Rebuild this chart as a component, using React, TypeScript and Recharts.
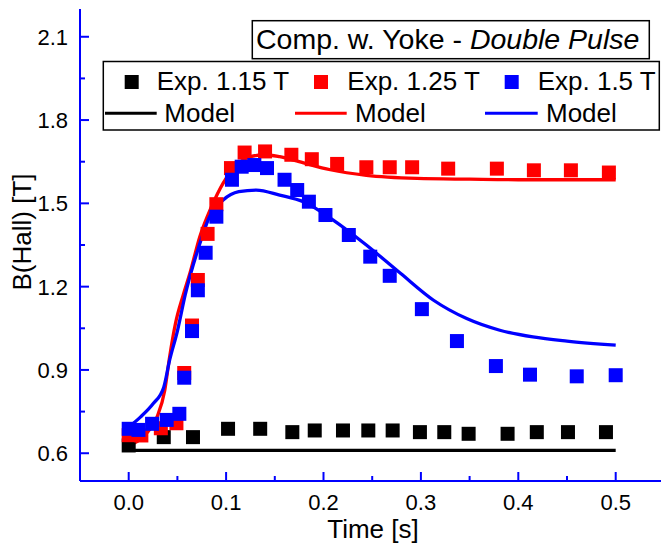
import {
  ComposedChart,
  Scatter,
  Line,
  XAxis,
  YAxis,
} from 'recharts';

const expT115 = [0.0, 0.036, 0.066, 0.102, 0.135, 0.168, 0.191, 0.22, 0.246, 0.271, 0.299, 0.324, 0.349, 0.389, 0.419, 0.451, 0.49];
const expB115 = [0.628, 0.658, 0.658, 0.688, 0.688, 0.676, 0.682, 0.682, 0.682, 0.682, 0.676, 0.676, 0.67, 0.67, 0.676, 0.676, 0.676];

const expT125 = [0.0, 0.013, 0.033, 0.049, 0.057, 0.065, 0.071, 0.081, 0.09, 0.105, 0.119, 0.14, 0.167, 0.188, 0.214, 0.244, 0.268, 0.291, 0.328, 0.378, 0.416, 0.454, 0.493];
const expB125 = [0.665, 0.664, 0.69, 0.708, 0.889, 1.06, 1.224, 1.39, 1.497, 1.627, 1.683, 1.687, 1.675, 1.659, 1.642, 1.63, 1.63, 1.63, 1.625, 1.625, 1.619, 1.619, 1.611];

const expT150 = [0.0, 0.01, 0.024, 0.039, 0.052, 0.057, 0.065, 0.071, 0.079, 0.09, 0.106, 0.116, 0.129, 0.142, 0.16, 0.173, 0.185, 0.202, 0.226, 0.248, 0.268, 0.301, 0.337, 0.377, 0.412, 0.46, 0.5];
const expB150 = [0.688, 0.684, 0.706, 0.72, 0.742, 0.872, 1.04, 1.187, 1.322, 1.452, 1.585, 1.632, 1.638, 1.627, 1.585, 1.548, 1.506, 1.458, 1.386, 1.308, 1.239, 1.119, 1.004, 0.914, 0.883, 0.877, 0.881];

const modT115 = [0.0, 0.1, 0.2, 0.3, 0.4, 0.5];
const modB115 = [0.61, 0.61, 0.61, 0.61, 0.61, 0.61];

const modT125 = [0.0, 0.018, 0.029, 0.037, 0.042, 0.048, 0.056, 0.063, 0.073, 0.085, 0.097, 0.11, 0.125, 0.14, 0.155, 0.175, 0.207, 0.244, 0.296, 0.35, 0.4, 0.45, 0.5];
const modB125 = [0.628, 0.67, 0.73, 0.826, 0.947, 1.067, 1.17, 1.25, 1.38, 1.488, 1.573, 1.635, 1.668, 1.675, 1.668, 1.65, 1.621, 1.601, 1.59, 1.587, 1.585, 1.585, 1.585];

const modT150 = [0.0, 0.012, 0.025, 0.036, 0.042, 0.05, 0.058, 0.072, 0.083, 0.097, 0.113, 0.131, 0.155, 0.18, 0.21, 0.244, 0.279, 0.313, 0.347, 0.381, 0.415, 0.45, 0.5];
const modB150 = [0.694, 0.73, 0.778, 0.838, 0.935, 1.04, 1.17, 1.344, 1.452, 1.512, 1.542, 1.548, 1.53, 1.505, 1.44, 1.35, 1.248, 1.151, 1.085, 1.043, 1.019, 1.004, 0.989];

const xTicks = [0, 0.05, 0.1, 0.15, 0.2, 0.25, 0.3, 0.35, 0.4, 0.45, 0.5];
const yTicks = [0.6, 0.75, 0.9, 1.05, 1.2, 1.35, 1.5, 1.65, 1.8, 1.95, 2.1];

const pts = (t: number[], b: number[]) => t.map((v, i) => ({ t: v, b: b[i] }));

const FONT = '"Liberation Sans", Arial, sans-serif';
const BLUE = '#0000ff';

const isMajorX = (v: number) => Math.abs(v * 10 - Math.round(v * 10)) < 1e-6;
const isMajorY = (v: number) => Math.abs((v - 0.6) / 0.3 - Math.round((v - 0.6) / 0.3)) < 1e-6;

const square = (color: string) => (props: any) => (
  <rect x={props.cx - 7} y={props.cy - 7} width={14} height={14} fill={color} />
);

const BottomTick = (props: any) => {
  const { x, y, payload } = props;
  const major = isMajorX(payload.value);
  return (
    <g>
      <line x1={x} x2={x} y1={y} y2={y - (major ? 9 : 5)} stroke={BLUE} strokeWidth={2} />
      {major && (
        <text x={x} y={y + 29} textAnchor="middle" fontSize={22} fontFamily={FONT} fill="#000">
          {payload.value.toFixed(1)}
        </text>
      )}
    </g>
  );
};

const TopTick = (props: any) => {
  const { x, y, payload } = props;
  const major = isMajorX(payload.value);
  return <line x1={x} x2={x} y1={y} y2={y + (major ? 9 : 5)} stroke={BLUE} strokeWidth={2} />;
};

const LeftTick = (props: any) => {
  const { x, y, payload } = props;
  const major = isMajorY(payload.value);
  return (
    <g>
      <line x1={x} x2={x + (major ? 9 : 5)} y1={y} y2={y} stroke={BLUE} strokeWidth={2} />
      {major && (
        <text x={x - 12} y={y + 8} textAnchor="end" fontSize={22} fontFamily={FONT} fill="#000">
          {payload.value.toFixed(1)}
        </text>
      )}
    </g>
  );
};

const RightTick = (props: any) => {
  const { x, y, payload } = props;
  const major = isMajorY(payload.value);
  return <line x1={x} x2={x - (major ? 9 : 5)} y1={y} y2={y} stroke={BLUE} strokeWidth={2} />;
};

export default function App() {
  return (
    <div style={{ position: 'absolute', left: 0, top: 0, width: 661, height: 545, overflow: 'hidden', background: '#fff' }}>
      <ComposedChart width={680} height={545} margin={{ top: 9, right: 15.6, bottom: 0, left: 0 }}>
        <XAxis
          dataKey="t"
          type="number"
          domain={[-0.05, 0.55]}
          ticks={xTicks}
          interval={0}
          height={64}
          tickSize={0}
          tickMargin={0}
          tick={<BottomTick />}
          axisLine={{ stroke: BLUE, strokeWidth: 2 }}
        />
        <XAxis
          xAxisId="top"
          orientation="top"
          dataKey="t"
          type="number"
          domain={[-0.05, 0.55]}
          ticks={xTicks}
          interval={0}
          height={0}
          tickSize={0}
          tickMargin={0}
          tick={<TopTick />}
          axisLine={{ stroke: BLUE, strokeWidth: 2 }}
        />
        <YAxis
          type="number"
          domain={[0.5, 2.2]}
          ticks={yTicks}
          interval={0}
          width={80}
          tickSize={0}
          tickMargin={0}
          tick={<LeftTick />}
          axisLine={{ stroke: BLUE, strokeWidth: 2 }}
        />
        <YAxis
          yAxisId="right"
          orientation="right"
          type="number"
          domain={[0.5, 2.2]}
          ticks={yTicks}
          interval={0}
          width={0}
          tickSize={0}
          tickMargin={0}
          tick={<RightTick />}
          axisLine={{ stroke: BLUE, strokeWidth: 2 }}
        />
        <Scatter data={pts(expT115, expB115)} dataKey="b" shape={square('#000000')} isAnimationActive={false} />
        <Line data={pts(modT115, modB115)} dataKey="b" type="monotone" stroke="#000000" strokeWidth={3.3} dot={false} isAnimationActive={false} />
        <Scatter data={pts(expT125, expB125)} dataKey="b" shape={square('#ff0000')} isAnimationActive={false} />
        <Line data={pts(modT125, modB125)} dataKey="b" type="monotone" stroke="#ff0000" strokeWidth={3.3} dot={false} isAnimationActive={false} />
        <Scatter data={pts(expT150, expB150)} dataKey="b" shape={square('#0000ff')} isAnimationActive={false} />
        <Line data={pts(modT150, modB150)} dataKey="b" type="monotone" stroke="#0000ff" strokeWidth={3.3} dot={false} isAnimationActive={false} />
      </ComposedChart>

      {/* títulos e legenda */}
      <svg width={661} height={545} style={{ position: 'absolute', left: 0, top: 0, pointerEvents: 'none' }} fontFamily={FONT}>
        <text x={373} y={538} textAnchor="middle" fontSize={26} fill="#000">Time [s]</text>
        <text x={31} y={232} textAnchor="middle" fontSize={26} fill="#000" transform="rotate(-90 31 232)">B(Hall) [T]</text>

        <rect x={252.3} y={20.7} width={397} height={38} fill="#fff" stroke="#000" strokeWidth={1.5} />
        <text x={256} y={49} fontSize={28.5} fill="#000">
          <tspan>Comp. w. Yoke - </tspan>
          <tspan fontStyle="italic">Double Pulse</tspan>
        </text>

        <rect x={103.3} y={61.5} width={556} height={68.5} fill="#fff" stroke="#000" strokeWidth={1.5} />
        <rect x={124.7} y={75} width={14} height={14} fill="#000" />
        <text x={156.7} y={90} fontSize={26} fill="#000">Exp. 1.15 T</text>
        <rect x={314} y={75} width={14} height={14} fill="#ff0000" />
        <text x={347.3} y={90} fontSize={26} fill="#000">Exp. 1.25 T</text>
        <rect x={504.7} y={75} width={14} height={14} fill="#0000ff" />
        <text x={537.7} y={90} fontSize={26} fill="#000">Exp. 1.5 T</text>

        <line x1={105} x2={156.7} y1={113.3} y2={113.3} stroke="#000" strokeWidth={3} />
        <text x={164.3} y={121.7} fontSize={26} fill="#000">Model</text>
        <line x1={295} x2={346.7} y1={113.3} y2={113.3} stroke="#ff0000" strokeWidth={3} />
        <text x={355} y={121.7} fontSize={26} fill="#000">Model</text>
        <line x1={485} x2={537.7} y1={113.3} y2={113.3} stroke="#0000ff" strokeWidth={3} />
        <text x={546} y={121.7} fontSize={26} fill="#000">Model</text>
      </svg>
    </div>
  );
}
